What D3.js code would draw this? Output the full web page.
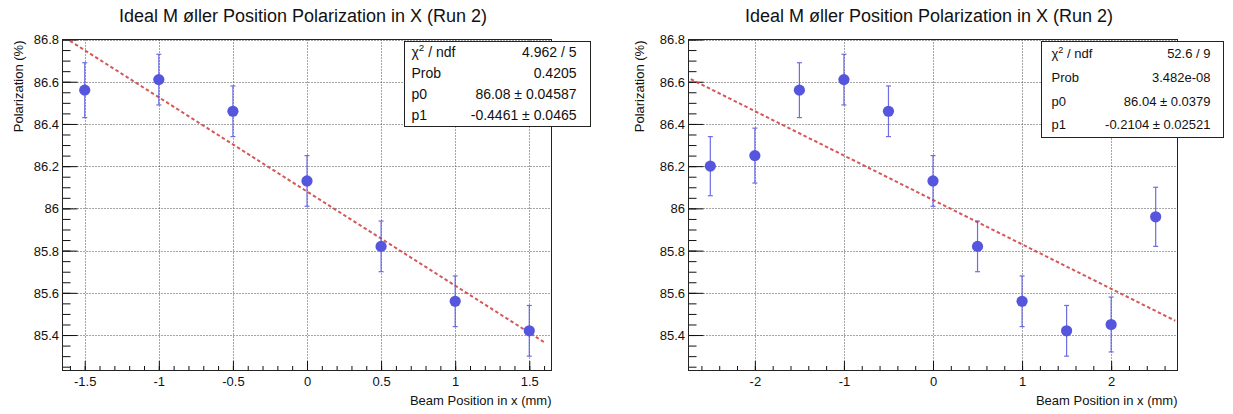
<!DOCTYPE html>
<html>
<head>
<meta charset="utf-8">
<script src="https://cdn.jsdelivr.net/npm/d3@7"></script>
<style>
  body { margin: 0; background: #fff; }
  svg { display: block; font-family: "Liberation Sans", Arial, Helvetica, sans-serif; }
</style>
</head>
<body>
<svg id="chart"></svg>
<script>
const width = 1233, height = 414;

const titleText = "Ideal M øller Position Polarization in X (Run 2)";
const xTitle = "Beam Position in x (mm)";
const yTitle = "Polarization (%)";

// left canvas: scan over +-1.5 mm
const posA = [-1.5, -1, -0.5, 0, 0.5, 1, 1.5];
const polA = [86.56, 86.61, 86.46, 86.13, 85.82, 85.56, 85.42];
const errA = [0.13, 0.12, 0.12, 0.12, 0.12, 0.12, 0.12];
const fitA = [86.08, -0.4461];
const statsA = ["4.962 / 5", "0.4205", "86.08 \u00b1 0.04587", "-0.4461 \u00b1 0.0465"];

// right canvas: scan over +-2.5 mm
const posB = [-2.5, -2, -1.5, -1, -0.5, 0, 0.5, 1, 1.5, 2, 2.5];
const polB = [86.20, 86.25, 86.56, 86.61, 86.46, 86.13, 85.82, 85.56, 85.42, 85.45, 85.96];
const errB = [0.14, 0.13, 0.13, 0.12, 0.12, 0.12, 0.12, 0.12, 0.12, 0.13, 0.14];
const fitB = [86.04, -0.2104];
const statsB = ["52.6 / 9", "3.482e-08", "86.04 \u00b1 0.0379", "-0.2104 \u00b1 0.02521"];

const statNames = ["p0", "p1"];
const yTicks = [85.4, 85.6, 85.8, 86, 86.2, 86.4, 86.6, 86.8];
const xTicksA = [-1.5, -1, -0.5, 0, 0.5, 1, 1.5];
const xTicksB = [-2, -1, 0, 1, 2];
const yDomain = [85.232, 86.8];

const markerColor = "#5555dd";
const fitColor = "#cc3b3b";

const panels = [
  { pos: posA, pol: polA, err: errA, fit: fitA, stats: statsA,
    xTicks: xTicksA, xMinorStep: 0.1, xDomain: [-1.65, 1.65], fitRange: [-1.6, 1.6],
    left: 62.5, right: 551.5, yTitleX: 22.5,
    box: { x0: 404.5, x1: 590.5, y0: 41.5, y1: 126.5, font: 14, padL: 7, padR: 14, rows: [56.5, 77.5, 98.5, 119.5] } },
  { pos: posB, pol: polB, err: errB, fit: fitB, stats: statsB,
    xTicks: xTicksB, xMinorStep: 0.2, xDomain: [-2.745, 2.745], fitRange: [-2.72, 2.72],
    left: 688.5, right: 1177.5, yTitleX: 643.5,
    box: { x0: 1041.5, x1: 1223.5, y0: 41.5, y1: 137.5, font: 13, padL: 10, padR: 13, rows: [58, 82, 105.5, 129] } }
];

const frameTop = 39.5, frameBottom = 370.5;

const svg = d3.select("#chart")
    .attr("width", width)
    .attr("height", height)
    .attr("viewBox", [0, 0, width, height]);

svg.append("rect").attr("width", width).attr("height", height).attr("fill", "#fff");

function minorTicks(domain, step) {
    const a = Math.ceil(domain[0] / step - 1e-6), b = Math.floor(domain[1] / step + 1e-6);
    return d3.range(a, b + 1).map(i => +(i * step).toFixed(4));
}

panels.forEach((p, k) => {
    const x = d3.scaleLinear().domain(p.xDomain).range([p.left, p.right]);
    const y = d3.scaleLinear().domain(yDomain).range([frameBottom, frameTop]);
    const g = svg.append("g");

    const clipId = "clip" + k;
    g.append("clipPath").attr("id", clipId)
        .append("rect")
        .attr("x", p.left).attr("y", frameTop)
        .attr("width", p.right - p.left).attr("height", frameBottom - frameTop);

    // grid
    const grid = g.append("g")
        .attr("stroke", "#000")
        .attr("stroke-width", 1)
        .attr("stroke-dasharray", "1,2")
        .attr("opacity", 0.7);
    grid.selectAll(".gx").data(p.xTicks).join("line")
        .attr("x1", d => Math.round(x(d)) + 0.5).attr("x2", d => Math.round(x(d)) + 0.5)
        .attr("y1", frameTop).attr("y2", frameBottom);
    grid.selectAll(".gy").data(yTicks).join("line")
        .attr("x1", p.left).attr("x2", p.right)
        .attr("y1", d => Math.round(y(d)) + 0.5).attr("y2", d => Math.round(y(d)) + 0.5);

    // axes (ticks point inward, ROOT style)
    const yAxis = g.append("g")
        .attr("transform", `translate(${p.left},0)`)
        .call(d3.axisLeft(y).tickValues(yTicks).tickSizeInner(-15).tickSizeOuter(0)
            .tickPadding(3.5).tickFormat(d => String(d)));
    const yMinor = g.append("g")
        .attr("transform", `translate(${p.left},0)`)
        .call(d3.axisLeft(y).tickValues(minorTicks(yDomain, 0.05)).tickSize(-8).tickFormat(""));
    const xAxis = g.append("g")
        .attr("transform", `translate(0,${frameBottom})`)
        .call(d3.axisBottom(x).tickValues(p.xTicks).tickSizeInner(-9.5).tickSizeOuter(0)
            .tickPadding(6.5).tickFormat(d => String(d)));
    const xMinor = g.append("g")
        .attr("transform", `translate(0,${frameBottom})`)
        .call(d3.axisBottom(x).tickValues(minorTicks(p.xDomain, p.xMinorStep)).tickSize(-4.5).tickFormat(""));

    [yAxis, yMinor, xAxis, xMinor].forEach(a => {
        a.select(".domain").remove();
        a.attr("color", "#111").attr("font-family", null);
        a.selectAll("text").attr("font-size", 13).attr("fill", "#111");
    });
    yAxis.selectAll("text").attr("dy", "0.34em");

    // frame
    g.append("rect")
        .attr("x", p.left).attr("y", frameTop)
        .attr("width", p.right - p.left).attr("height", frameBottom - frameTop)
        .attr("fill", "none").attr("stroke", "#222").attr("stroke-width", 1);

    // fit line
    const line = d3.line().x(d => x(d)).y(d => y(p.fit[0] + p.fit[1] * d));
    g.append("path")
        .attr("clip-path", `url(#${clipId})`)
        .attr("d", line(p.fitRange))
        .attr("fill", "none")
        .attr("stroke", fitColor)
        .attr("stroke-width", 2)
        .attr("stroke-dasharray", "3.5,2.5")
        .attr("opacity", 0.85);

    // error bars and markers
    const pts = p.pos.map((v, i) => ({ x: v, y: p.pol[i], e: p.err[i] }));
    const eb = g.append("g").attr("stroke", markerColor).attr("stroke-width", 1.2).attr("opacity", 0.85);
    eb.selectAll(".bar").data(pts).join("line")
        .attr("x1", d => x(d.x)).attr("x2", d => x(d.x))
        .attr("y1", d => y(d.y - d.e)).attr("y2", d => y(d.y + d.e));
    eb.selectAll(".capT").data(pts).join("line")
        .attr("x1", d => x(d.x) - 2.5).attr("x2", d => x(d.x) + 2.5)
        .attr("y1", d => y(d.y + d.e)).attr("y2", d => y(d.y + d.e));
    eb.selectAll(".capB").data(pts).join("line")
        .attr("x1", d => x(d.x) - 2.5).attr("x2", d => x(d.x) + 2.5)
        .attr("y1", d => y(d.y - d.e)).attr("y2", d => y(d.y - d.e));
    g.append("g").selectAll("circle").data(pts).join("circle")
        .attr("cx", d => x(d.x)).attr("cy", d => y(d.y))
        .attr("r", 5.6)
        .attr("fill", markerColor);

    // titles
    g.append("text")
        .attr("x", (p.left + p.right) / 2 - 4).attr("y", 22)
        .attr("text-anchor", "middle")
        .attr("font-size", 18).attr("fill", "#111")
        .text(titleText);
    g.append("text")
        .attr("x", p.right).attr("y", 405)
        .attr("text-anchor", "end")
        .attr("font-size", 13).attr("fill", "#111")
        .text(xTitle);
    g.append("text")
        .attr("transform", `translate(${p.yTitleX},${frameTop + 1}) rotate(-90)`)
        .attr("text-anchor", "end")
        .attr("font-size", 13).attr("fill", "#111")
        .text(yTitle);

    // stats box
    const b = p.box;
    const sb = g.append("g").attr("font-size", b.font).attr("fill", "#111");
    sb.append("rect")
        .attr("x", b.x0).attr("y", b.y0)
        .attr("width", b.x1 - b.x0).attr("height", b.y1 - b.y0)
        .attr("fill", "#fff").attr("stroke", "#222").attr("stroke-width", 1);
    const chi = sb.append("text").attr("x", b.x0 + b.padL).attr("y", b.rows[0]);
    chi.append("tspan").text("\u03c7");
    chi.append("tspan").attr("font-size", b.font * 0.7).attr("dy", -b.font * 0.4).text("2");
    chi.append("tspan").attr("dy", b.font * 0.4).text(" / ndf");
    ["Prob"].concat(statNames).forEach((n, i) => {
        sb.append("text").attr("x", b.x0 + b.padL).attr("y", b.rows[i + 1]).text(n);
    });
    p.stats.forEach((s, i) => {
        sb.append("text")
            .attr("x", b.x1 - b.padR).attr("y", b.rows[i])
            .attr("text-anchor", "end")
            .text(s);
    });
});
</script>
</body>
</html>
